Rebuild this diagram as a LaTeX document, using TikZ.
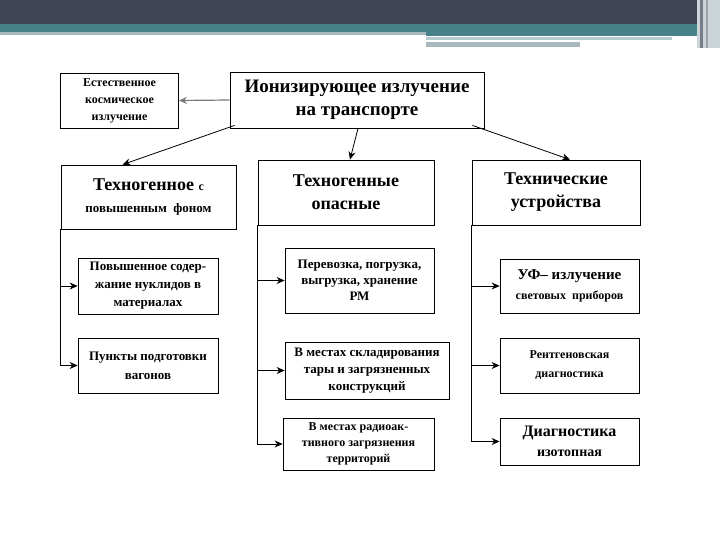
\documentclass[tikz,border=0pt]{standalone}
\usepackage{fontspec}
\setmainfont{Liberation Serif}
\usepackage{tikz}
\usetikzlibrary{arrows.meta}

\definecolor{slidedark}{HTML}{3F4455}
\definecolor{slideteal}{HTML}{47828A}
\definecolor{slidegray}{HTML}{A8B8BC}
\definecolor{slidelight}{HTML}{B4CCD0}
\definecolor{linkgray}{HTML}{7A7A7A}

\newcommand{\fsz}[2]{\fontsize{#1}{#2}\selectfont}

\tikzset{
  box/.style={draw, line width=0.8pt, align=center, inner sep=2pt},
}

\begin{document}
\begin{tikzpicture}[x=1pt,y=-1pt,>={Stealth[length=8pt,width=7pt]},line width=0.8pt]
    \useasboundingbox[fill=white] (0,0) rectangle (720,540);

    % slide header
    \fill[slidedark] (0,0) rectangle (720,24);
    \fill[slideteal] (0,24) rectangle (698,32);
    \fill[slidegray] (0,32) rectangle (426,35);
    \fill[slideteal] (426,32) rectangle (698,36);
    \fill[slidelight] (426,37) rectangle (672,40);
    \fill[slidegray] (426,42) rectangle (580,47);
    \fill[slidegray!60] (697,0) rectangle (720,48);
    \fill[slidedark!70] (700,0) rectangle (703,48);
    \fill[slidedark!50] (706,0) rectangle (708,48);

    % top level
    \node[box, minimum width=254pt, minimum height=56pt, font=\bfseries\fsz{19}{23}] (ion) at (357,100)
        {Ионизирующее излучение\\ на транспорте};
    \node[box, minimum width=118pt, minimum height=55pt, font=\bfseries\fsz{12}{17}] (cosm) at (119.5,100.5)
        {Естественное\\ космическое\\ излучение};

    % second level
    \node[box, minimum width=175pt, minimum height=64pt, font=\bfseries\fsz{18}{22}] (tfon) at (148.5,197)
        {Техногенное {\fsz{12}{12}с}\\ {\fsz{13}{22}повышенным\enspace фоном}};
    \node[box, minimum width=176pt, minimum height=65pt, font=\bfseries\fsz{18}{23}] (topas) at (346,192.5)
        {Техногенные\\ опасные};
    \node[box, minimum width=168pt, minimum height=65pt, font=\bfseries\fsz{18}{23}] (tech) at (556,192.5)
        {Технические\\ устройства};

    % third level, left
    \node[box, minimum width=140pt, minimum height=56pt, font=\bfseries\fsz{13}{18}] (nucl) at (148,286)
        {Повышенное содер-\\ жание нуклидов в\\ материалах};
    \node[box, minimum width=140pt, minimum height=55pt, font=\bfseries\fsz{13}{19}] (vag) at (148,365.5)
        {Пункты подготовки\\ вагонов};

    % third level, middle
    \node[box, minimum width=149pt, minimum height=65pt, font=\bfseries\fsz{13}{16}] (perev) at (359.5,280.5)
        {Перевозка, погрузка,\\ выгрузка, хранение\\ РМ};
    \node[box, minimum width=164pt, minimum height=57pt, font=\bfseries\fsz{13}{17}] (sklad) at (367,370.5)
        {В местах складирования\\ тары и загрязненных\\ конструкций};
    \node[box, minimum width=151pt, minimum height=52pt, font=\bfseries\fsz{12}{16}] (terr) at (358.5,444)
        {В местах радиоак-\\ тивного загрязнения\\ территорий};

    % third level, right
    \node[box, minimum width=139pt, minimum height=54pt, font=\bfseries\fsz{15}{20}] (uf) at (569.5,286)
        {УФ– излучение\\ {\fsz{12}{20}световых\enspace приборов}};
    \node[box, minimum width=139pt, minimum height=55pt, font=\bfseries\fsz{12}{19}] (rentg) at (569.5,365.5)
        {Рентгеновская\\ диагностика};
    \node[box, minimum width=139pt, minimum height=47pt, font=\bfseries\fsz{16}{20}] (izot) at (569.5,441.5)
        {Диагностика\\ {\fsz{14}{20}изотопная}};

    % links from the main box
    \draw[->, linkgray, line width=1.2pt] (ion.west) -- (cosm.east);
    \draw[->] ([xshift=5pt,yshift=3pt]ion.south west) -- ([xshift=-26pt]tfon.north);
    \draw[->] ([xshift=1pt]ion.south) -- ([xshift=4pt]topas.north);
    \draw[->] ([xshift=-12pt,yshift=3pt]ion.south east) -- ([xshift=14pt]tech.north);

    % branches
    \foreach \c in {nucl,vag}
      \draw[->] (tfon.south west) |- (\c.west);
    \foreach \c in {perev,sklad,terr}
      \draw[->] (topas.south west) |- (\c.west);
    \foreach \c in {uf,rentg,izot}
      \draw[->] (tech.south west) |- (\c.west);
\end{tikzpicture}
\end{document}
